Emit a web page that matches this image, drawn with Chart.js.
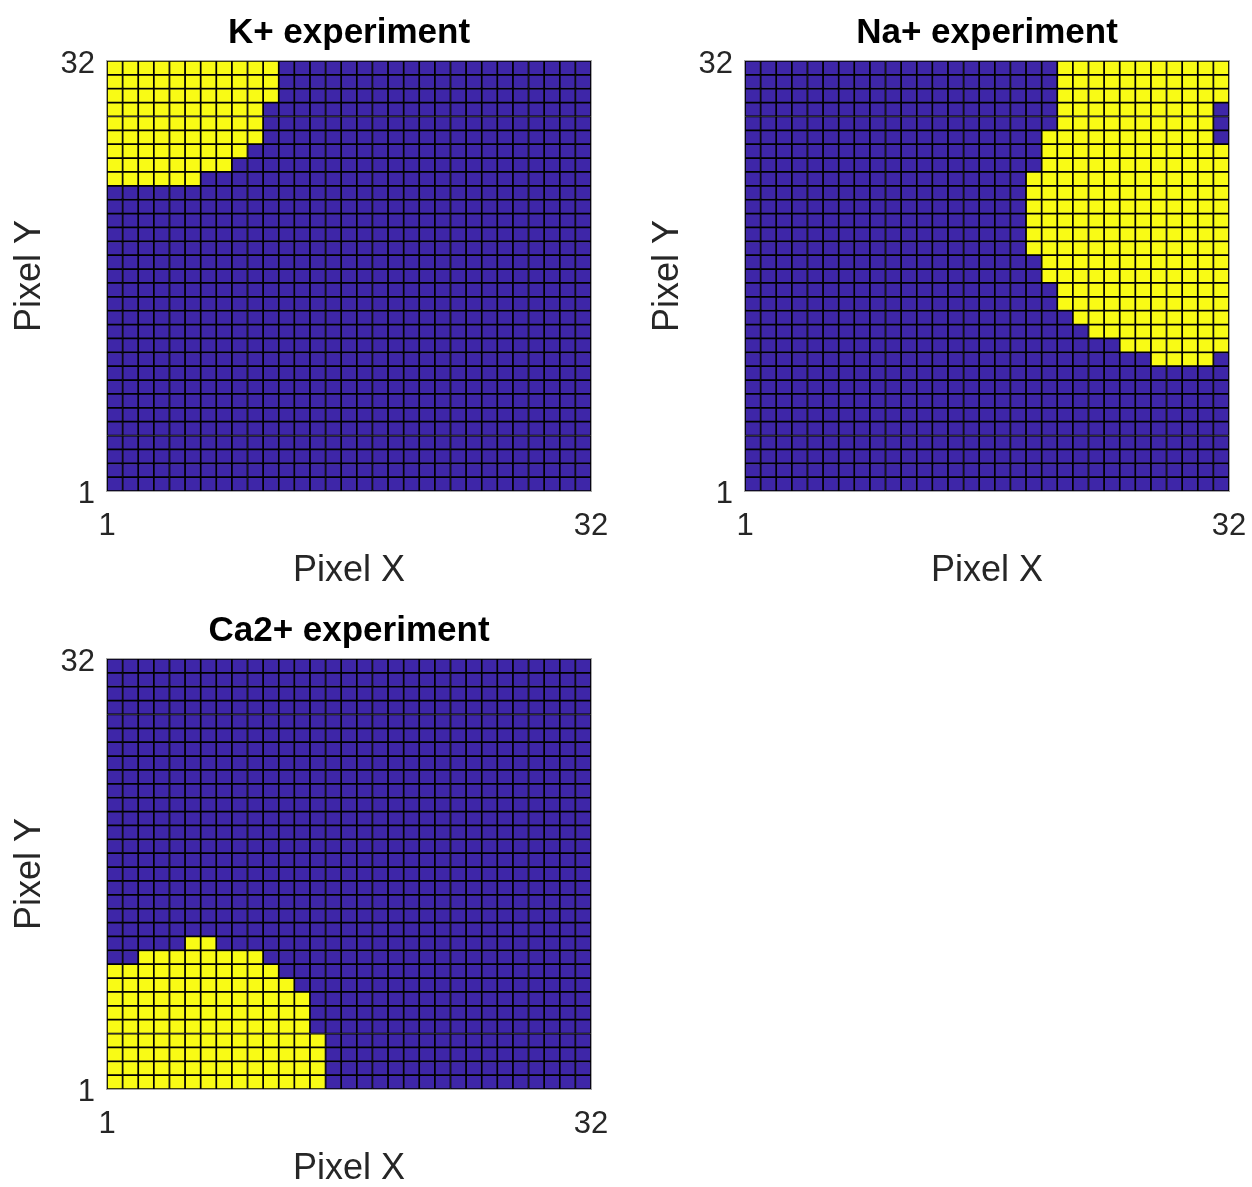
<!DOCTYPE html>
<html>
<head>
<meta charset="utf-8">
<title>Ion experiments – pixel maps</title>
<script src="https://cdn.jsdelivr.net/npm/chart.js@4.4.1/dist/chart.umd.min.js"></script>
<style>
  html, body { margin: 0; padding: 0; background: #fff; overflow: hidden; }
  #fig { position: relative; width: 1252px; height: 1187px; overflow: hidden; background: #fff; }
  #fig canvas { position: absolute; }
</style>
</head>
<body>
<div id="fig">
  <canvas id="kPlus" width="638" height="598" style="left:0px;top:0px"></canvas>
  <canvas id="naPlus" width="638" height="598" style="left:638px;top:0px"></canvas>
  <canvas id="ca2Plus" width="638" height="598" style="left:0px;top:598px"></canvas>
</div>
<script>
// Grid: 32 x 32 sample points -> 31 x 31 cells, cell (c, r) spans [c, c+1] x [r, r+1].
const gridCells = 31;
const pixelXTicks = [1, 32];
const pixelYTicks = [1, 32];
const experimentTitles = ['K+ experiment', 'Na+ experiment', 'Ca2+ experiment'];
const xAxisLabel = 'Pixel X';
const yAxisLabel = 'Pixel Y';

// Responsive cells per row, listed from row y = 31 (top) down to row y = 1.
// Each entry is [firstColumn, lastColumn] of the responding run, or null when none respond.
const kPlusRuns = [
  [1, 11], [1, 11], [1, 11], [1, 10], [1, 10], [1, 10], [1, 9], [1, 8], [1, 6],
  null, null, null, null, null, null, null, null, null, null, null,
  null, null, null, null, null, null, null, null, null, null, null
];
const naPlusRuns = [
  [21, 31], [21, 31], [21, 31], [21, 30], [21, 30], [20, 30], [20, 31], [20, 31],
  [19, 31], [19, 31], [19, 31], [19, 31], [19, 31], [19, 31],
  [20, 31], [20, 31], [21, 31], [21, 31], [22, 31], [23, 31], [25, 31], [27, 30],
  null, null, null, null, null, null, null, null, null
];
const ca2PlusRuns = [
  null, null, null, null, null, null, null, null, null, null,
  null, null, null, null, null, null, null, null, null, null,
  [6, 7], [3, 10], [1, 11], [1, 12], [1, 13], [1, 13], [1, 13], [1, 14], [1, 14], [1, 14], [1, 14]
];

const lowColor = '#3e26a8';
const highColor = '#f9fb15';

// One floating bar per cell: x at the cell centre, y spanning the cell's row.
function cellsFromRuns(runs) {
  const points = [];
  const colors = [];
  runs.forEach((run, i) => {
    const row = gridCells - i;
    for (let col = 1; col <= gridCells; col++) {
      const on = run !== null && col >= run[0] && col <= run[1];
      points.push({ x: col + 0.5, y: [row, row + 1] });
      colors.push(on ? highColor : lowColor);
    }
  });
  return { points, colors };
}

// Thin grey box around the plotting area.
const frameBox = {
  id: 'frameBox',
  afterDatasetsDraw(chart) {
    const { ctx, chartArea: a } = chart;
    ctx.save();
    ctx.strokeStyle = '#a6a6a6';
    ctx.lineWidth = 1;
    ctx.strokeRect(Math.round(a.left) - 0.5, Math.round(a.top) - 0.5,
      Math.round(a.right - a.left) + 1, Math.round(a.bottom - a.top) + 1);
    ctx.restore();
  }
};

// Centre each subplot title over its own axes rather than the whole canvas.
const titleOverAxes = {
  id: 'titleOverAxes',
  afterLayout(chart) {
    const t = chart.titleBlock;
    if (t) {
      t.left = chart.chartArea.left;
      t.right = chart.chartArea.right;
    }
  }
};

const tickFont = { family: '"Liberation Sans", Arial, sans-serif', size: 31 };
const labelFont = { family: '"Liberation Sans", Arial, sans-serif', size: 36 };
const titleFont = { family: '"Liberation Sans", Arial, sans-serif', size: 35, weight: 'bold' };
const textGray = '#262626';

function makeMap(canvasId, title, runs) {
  const cells = cellsFromRuns(runs);
  return new Chart(document.getElementById(canvasId), {
    type: 'bar',
    data: {
      datasets: [{
        data: cells.points,
        backgroundColor: cells.colors,
        borderColor: '#000000',
        borderWidth: 1.2,
        borderSkipped: false,
        grouped: false,
        barPercentage: 1,
        categoryPercentage: 1
      }]
    },
    options: {
      responsive: false,
      animation: false,
      events: [],
      layout: { padding: { left: 0, top: 0, right: 47, bottom: 0 } },
      plugins: {
        legend: { display: false },
        tooltip: { enabled: false },
        title: {
          display: true,
          text: title,
          color: '#000000',
          font: titleFont,
          padding: { top: 12, bottom: 7 }
        }
      },
      scales: {
        x: {
          type: 'linear',
          min: 1,
          max: 32,
          offset: false,
          grid: { display: false, drawTicks: false },
          border: { display: false },
          ticks: { color: textGray, font: tickFont, padding: 17, maxRotation: 0, autoSkip: false },
          afterBuildTicks: s => { s.ticks = pixelXTicks.map(v => ({ value: v })); },
          afterFit: s => { s.height = 107; },
          title: { display: true, text: xAxisLabel, color: textGray, font: labelFont, padding: { top: 0, bottom: 5 } }
        },
        y: {
          type: 'linear',
          min: 1,
          max: 32,
          grid: { display: false, drawTicks: false },
          border: { display: false },
          ticks: { color: textGray, font: tickFont, padding: 12, labelOffset: 3, autoSkip: false },
          afterBuildTicks: s => { s.ticks = pixelYTicks.map(v => ({ value: v })); },
          afterFit: s => { s.width = 107; },
          title: { display: true, text: yAxisLabel, color: textGray, font: labelFont, padding: { top: 8, bottom: 0 } }
        }
      }
    },
    plugins: [frameBox, titleOverAxes]
  });
}

makeMap('kPlus', experimentTitles[0], kPlusRuns);
makeMap('naPlus', experimentTitles[1], naPlusRuns);
makeMap('ca2Plus', experimentTitles[2], ca2PlusRuns);
</script>
</body>
</html>
